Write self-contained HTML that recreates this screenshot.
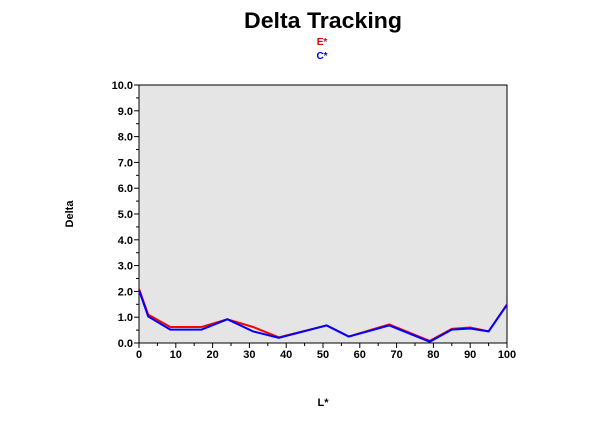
<!DOCTYPE html>
<html><head><meta charset="utf-8"><style>
html,body{margin:0;padding:0;background:#fff;width:600px;height:421px;overflow:hidden;font-family:"Liberation Sans",Arial,sans-serif}
</style></head><body>
<svg id="chart" width="600" height="421" xmlns="http://www.w3.org/2000/svg" font-family="Liberation Sans, Arial, sans-serif">
<text x="323" y="28" text-anchor="middle" font-size="22" font-weight="bold" textLength="158" lengthAdjust="spacingAndGlyphs">Delta Tracking</text>
<text x="322" y="45" text-anchor="middle" font-size="10" font-weight="bold" fill="#e00000">E*</text>
<text x="322" y="59" text-anchor="middle" font-size="10" font-weight="bold" fill="#0000e0">C*</text>
<rect x="139" y="85" width="368" height="258" fill="#e5e5e5" stroke="#000" stroke-width="1"/>
<text x="73" y="214" text-anchor="middle" font-size="11" font-weight="bold" transform="rotate(-90 73 214)">Delta</text>
<text x="323" y="406" text-anchor="middle" font-size="11" font-weight="bold">L*</text>
<g id="axes"></g>
<g id="series"></g>
</svg>
<script>
const lValuesE=[0,2.5,8.5,17,24,31,38,51,57,68,79,85,90,95,100];
const deltaE=[2.1,1.1,0.62,0.62,0.92,0.62,0.22,0.68,0.25,0.72,0.08,0.55,0.6,0.45,1.5];
const lValuesC=[0,2.5,8.5,17,24,31,38,51,57,68,79,85,90,95,100];
const deltaC=[2.05,1.03,0.52,0.52,0.92,0.45,0.2,0.68,0.25,0.68,0.05,0.52,0.56,0.45,1.48];
const yTicks=[0,1,2,3,4,5,6,7,8,9,10];
const xTicks=[0,10,20,30,40,50,60,70,80,90,100];
const NS="http://www.w3.org/2000/svg";
const L=139,R=507,T=85,B=343;
const xs=v=>L+(v/100)*(R-L);
const ys=v=>B-(v/10)*(B-T);
const axes=document.getElementById('axes');
function mk(tag,attrs,parent){const e=document.createElementNS(NS,tag);for(const k in attrs)e.setAttribute(k,attrs[k]);parent.appendChild(e);return e;}
yTicks.forEach((v,i)=>{
 const t=mk('line',{x1:L-5,x2:L,y1:ys(v),y2:ys(v),stroke:'#000'},axes);
 
 
 if(i<yTicks.length-1){const m=mk('line',{x1:L-3,x2:L,y1:ys(v+0.5),y2:ys(v+0.5),stroke:'#000'},axes);
 
 }
 const lb=mk('text',{x:L-6,y:ys(v)+4,'text-anchor':'end','font-size':'11','font-weight':'bold'},axes);
 lb.textContent=v.toFixed(1);
 
 
});
xTicks.forEach((v,i)=>{
 const t=mk('line',{x1:xs(v),x2:xs(v),y1:B,y2:B+5,stroke:'#000'},axes);
 
 
 if(i<xTicks.length-1){const m=mk('line',{x1:xs(v+5),x2:xs(v+5),y1:B,y2:B+3,stroke:'#000'},axes);
 
 }
 const lb=mk('text',{x:xs(v),y:B+15,'text-anchor':'middle','font-size':'11','font-weight':'bold'},axes);
 lb.textContent=v;
 
 
});
const ser=document.getElementById('series');
const pe=mk('polyline',{points:lValuesE.map((x,i)=>xs(x)+','+ys(deltaE[i])).join(' '),fill:'none',stroke:'#ff0000','stroke-width':'2'},ser);


const pc=mk('polyline',{points:lValuesC.map((x,i)=>xs(x)+','+ys(deltaC[i])).join(' '),fill:'none',stroke:'#0000ff','stroke-width':'2'},ser);


</script>
</body></html>
